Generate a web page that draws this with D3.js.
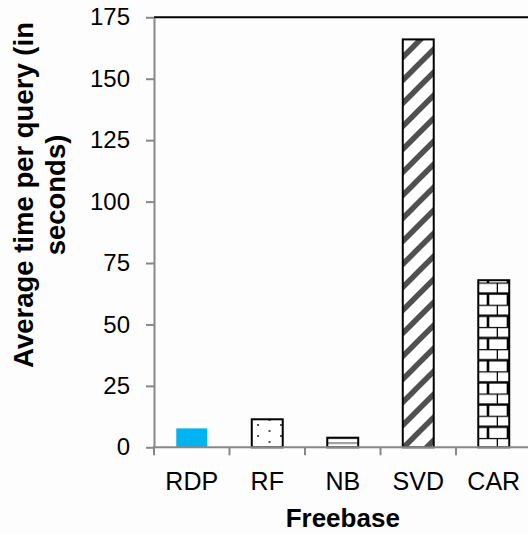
<!DOCTYPE html>
<html>
<head>
<meta charset="utf-8">
<script src="https://cdn.jsdelivr.net/npm/d3@7"></script>
<style>
  html, body { margin: 0; padding: 0; background: #fdfdfd; }
  svg { display: block; font-family: "Liberation Sans", Arial, sans-serif; }
</style>
</head>
<body>
<div id="chart"></div>
<script>
// values
const categories = ["RDP", "RF", "NB", "SVD", "CAR"];
const times = [7.7, 11.4, 3.9, 166, 68];
const fills = ["cyan", "dots", "hlines", "diag", "brick"];
const yTicks = [0, 25, 50, 75, 100, 125, 150, 175];

const width = 528;
const height = 534;
const plotLeft = 154;
const plotTop = 17.3;
const plotBottom = 447.3;
const step = 75.5;

const svg = d3.select("#chart")
  .append("svg")
  .attr("width", width)
  .attr("height", height);

svg.append("rect")
  .attr("width", width)
  .attr("height", height)
  .attr("fill", "#fdfdfd");

const x = d3.scaleBand()
  .domain(categories)
  .range([plotLeft, plotLeft + step * categories.length])
  .paddingInner(0.59)
  .paddingOuter(0.295);

const y = d3.scaleLinear()
  .domain([0, 175])
  .range([plotBottom, plotTop]);

// patterns
const defs = svg.append("defs");

const dots = defs.append("pattern")
  .attr("id", "dots")
  .attr("patternUnits", "userSpaceOnUse")
  .attr("x", 257).attr("y", 424)
  .attr("width", 23).attr("height", 11);
dots.append("rect").attr("width", 23).attr("height", 11).attr("fill", "#fff");
dots.append("rect").attr("x", 0).attr("y", 0).attr("width", 2).attr("height", 2).attr("fill", "#555");
dots.append("rect").attr("x", 11.5).attr("y", 6).attr("width", 2).attr("height", 2).attr("fill", "#555");

const hlines = defs.append("pattern")
  .attr("id", "hlines")
  .attr("patternUnits", "userSpaceOnUse")
  .attr("x", 0).attr("y", plotBottom)
  .attr("width", 10).attr("height", 5);
hlines.append("rect").attr("width", 10).attr("height", 5).attr("fill", "#fff");
hlines.append("rect").attr("y", 0).attr("width", 10).attr("height", 1.5).attr("fill", "#777");

const diag = defs.append("pattern")
  .attr("id", "diag")
  .attr("patternUnits", "userSpaceOnUse")
  .attr("x", 0).attr("y", 0)
  .attr("width", 23).attr("height", 23);
diag.append("rect").attr("width", 23).attr("height", 23).attr("fill", "#fff");
diag.append("path")
  .attr("d", "M-6,6 L6,-6 M0,23 L23,0 M17,29 L29,17")
  .attr("stroke", "#505050")
  .attr("stroke-width", 5.5);

const brick = defs.append("pattern")
  .attr("id", "brick")
  .attr("patternUnits", "userSpaceOnUse")
  .attr("x", 478).attr("y", 282.5)
  .attr("width", 20).attr("height", 22.2);
brick.append("rect").attr("width", 20).attr("height", 22.2).attr("fill", "#fff");
brick.append("path")
  .attr("d", "M0,0 H20 M0,11.1 H20 M20,0 V11.1 M10,11.1 V22.2")
  .attr("stroke", "#000")
  .attr("stroke-width", 2.6);

const fillFor = {
  cyan: "#00b4ef",
  dots: "url(#dots)",
  hlines: "url(#hlines)",
  diag: "url(#diag)",
  brick: "url(#brick)"
};

// plot area border (only the top is visible)
svg.append("line")
  .attr("x1", plotLeft).attr("x2", width)
  .attr("y1", plotTop).attr("y2", plotTop)
  .attr("stroke", "#000")
  .attr("stroke-width", 2);

// bars
svg.selectAll(".bar")
  .data(categories)
  .enter()
  .append("rect")
  .attr("class", "bar")
  .attr("x", d => x(d))
  .attr("width", x.bandwidth())
  .attr("y", (d, i) => y(times[i]))
  .attr("height", (d, i) => plotBottom - y(times[i]))
  .attr("fill", (d, i) => fillFor[fills[i]])
  .attr("stroke", (d, i) => fills[i] === "cyan" ? "none" : "#000")
  .attr("stroke-width", 2);

// y axis
const yAxis = svg.append("g")
  .attr("transform", `translate(${plotLeft},0)`)
  .call(d3.axisLeft(y).tickValues(yTicks).tickSize(8).tickSizeOuter(0).tickPadding(16));
yAxis.select(".domain").attr("stroke", "#888").attr("stroke-width", 2);
yAxis.selectAll(".tick line").attr("stroke", "#888").attr("stroke-width", 2);
yAxis.selectAll(".tick text")
  .attr("font-size", 24)
  .attr("fill", "#000")
  .attr("font-family", "Liberation Sans, Arial, sans-serif");

// x axis
const xAxis = svg.append("g")
  .attr("transform", `translate(0,${plotBottom})`)
  .call(d3.axisBottom(x).tickSize(0).tickPadding(25));
xAxis.select(".domain").remove();
xAxis.selectAll(".tick text")
  .attr("font-size", 25)
  .attr("fill", "#000")
  .attr("font-family", "Liberation Sans, Arial, sans-serif");

svg.append("line")
  .attr("x1", plotLeft - 1).attr("x2", width)
  .attr("y1", plotBottom).attr("y2", plotBottom)
  .attr("stroke", "#888")
  .attr("stroke-width", 2);

const bounds = [plotLeft].concat(categories.map(c => x(c) + x.bandwidth() / 2 + x.step() / 2));
svg.selectAll(".xtick")
  .data(bounds)
  .enter()
  .append("line")
  .attr("class", "xtick")
  .attr("x1", d => d).attr("x2", d => d)
  .attr("y1", plotBottom).attr("y2", plotBottom + 8)
  .attr("stroke", "#888")
  .attr("stroke-width", 2);

// titles
svg.append("text")
  .attr("x", (plotLeft + x.range()[1]) / 2)
  .attr("y", 527)
  .attr("text-anchor", "middle")
  .attr("font-size", 26)
  .attr("font-weight", "bold")
  .text("Freebase");

const yTitle = svg.append("text")
  .attr("transform", "translate(33,195) rotate(-90)")
  .attr("text-anchor", "middle")
  .attr("font-size", 27.5)
  .attr("font-weight", "bold");
yTitle.append("tspan").attr("x", 0).attr("y", 0).text("Average time per query (in");
yTitle.append("tspan").attr("x", 0).attr("y", 32).text("seconds)");
</script>
</body>
</html>
